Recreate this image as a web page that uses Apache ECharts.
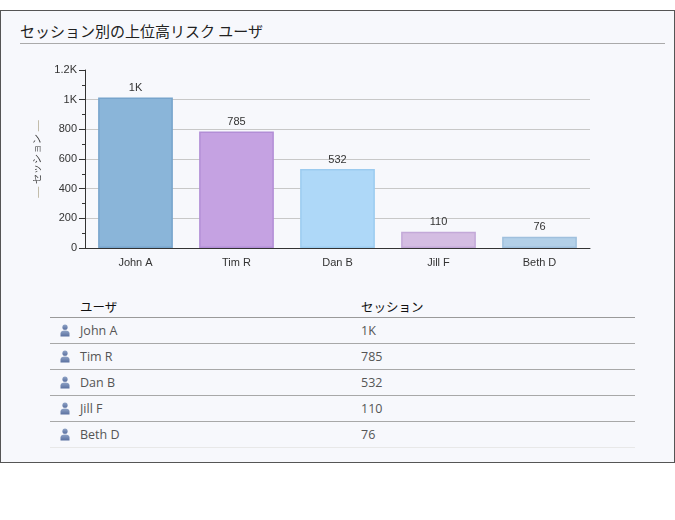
<!DOCTYPE html>
<html lang="ja">
<head>
  <meta charset="UTF-8">
  <title>セッション別の上位高リスク ユーザ</title>
  <script src="https://cdn.jsdelivr.net/npm/echarts@6.0.0/dist/echarts.min.js"></script>
  <style>
    html, body {
      margin: 0;
      padding: 0;
      width: 675px;
      height: 520px;
      background: #fff;
    }
    .panel {
      position: absolute;
      left: 0;
      top: 10px;
      width: 673px;
      height: 451px;
      border: 1px solid #555;
      background: #f7f8fc;
    }
    .title {
      position: absolute;
      left: 19px;
      top: 10px;
      width: 645px;
      height: 22px;
      border-bottom: 1px solid #aaa;
      font: 15px "Noto Sans CJK JP", sans-serif;
      color: #222;
      line-height: 20px;
    }
    #chart {
      position: absolute;
      left: 0;
      top: 30px;
      width: 673px;
      height: 230px;
    }
    table {
      position: absolute;
      left: 49px;
      top: 284px;
      width: 585px;
      border-collapse: collapse;
      font: 12.5px "Open Sans", sans-serif;
      color: #555;
    }
    th {
      text-align: left;
      font: 400 12.5px "Noto Sans CJK JP", sans-serif;
      color: #111;
      height: 22px;
      padding: 0;
      border-bottom: 1px solid #9a9a9a;
    }
    td {
      height: 25px;
      padding: 0;
      border-bottom: 1px solid #a8a8a8;
    }
    tr:last-child td { border-bottom-color: #e8e8e8; }
    .icon { width: 30px; text-align: center; }
    .icon svg { vertical-align: middle; margin-top: -2px; }
    .name { width: 281px; }
  </style>
</head>
<body>
  <div class="panel">
    <div class="title">セッション別の上位高リスク ユーザ</div>
    <div id="chart"></div>
    <table id="users"></table>
  </div>
  <script>
    const users = ['John A', 'Tim R', 'Dan B', 'Jill F', 'Beth D']
    const sessions = [1015, 785, 532, 110, 76]
    const barColors = ['#8ab5d9', '#c5a2e2', '#aed8f8', '#d4bde2', '#b3d0e8']
    const barBorders = ['#77a4cc', '#b28ed6', '#9ccbef', '#c3a9d8', '#a0c0dd']

    function fmt(v) {
      if (v >= 1000) return (v / 1000).toFixed(1).replace(/\.0$/, '') + 'K'
      return String(v)
    }

    const chart = echarts.init(document.getElementById('chart'))
    chart.setOption({
      animation: false,
      grid: { left: 84, right: 84, top: 29, bottom: 23 },
      textStyle: { fontFamily: '"Liberation Sans", Arial, sans-serif' },
      xAxis: {
        type: 'category',
        data: users,
        axisLine: { lineStyle: { color: '#333', width: 1 } },
        axisTick: { alignWithLabel: true, length: 5, lineStyle: { color: '#333' } },
        axisLabel: { color: '#333', fontSize: 11, margin: 9 }
      },
      yAxis: {
        type: 'value',
        min: 0,
        max: 1200,
        interval: 200,
        name: '{d|—} セッション {d|—}',
        nameLocation: 'middle',
        nameRotate: 90,
        nameGap: 42,
        nameTextStyle: {
          color: '#333',
          fontSize: 10,
          rich: { d: { color: '#b5ab93', fontSize: 11 } }
        },
        axisLine: { show: true, lineStyle: { color: '#333', width: 1 } },
        axisTick: { show: true, length: 6, lineStyle: { color: '#333' } },
        minorTick: { show: true, splitNumber: 2, length: 3, lineStyle: { color: '#333' } },
        axisLabel: { color: '#333', fontSize: 11, margin: 8, formatter: fmt },
        splitLine: {
          show: true,
          showMaxLine: false,
          lineStyle: { color: ['#c8c8c8', '#c8c8c8', '#c8c8c8', '#c8c8c8', '#c8c8c8', '#c8c8c8', 'rgba(0,0,0,0)'] }
        }
      },
      series: [{
        type: 'bar',
        barWidth: '74%',
        data: sessions.map((v, i) => ({
          value: v,
          itemStyle: { color: barColors[i], borderColor: barBorders[i], borderWidth: 1.5 }
        })),
        label: {
          show: true,
          position: 'top',
          distance: 4,
          color: '#333',
          fontSize: 11,
          formatter: p => fmt(p.value)
        }
      }]
    })

    const icon = '<svg width="10" height="13" viewBox="0 0 10 13">' +
      '<defs><linearGradient id="g" x1="0" y1="0" x2="0" y2="1">' +
      '<stop offset="0" stop-color="#8fa3c6"/><stop offset="1" stop-color="#5a70a0"/></linearGradient></defs>' +
      '<circle cx="5" cy="3.2" r="2.6" fill="url(#g)"/>' +
      '<path d="M0.5 12.5 V9.5 Q0.5 6.5 5 6.5 Q9.5 6.5 9.5 9.5 V12.5 Z" fill="url(#g)"/></svg>'

    const rows = ['<tr><th></th><th>ユーザ</th><th>セッション</th></tr>']
    users.forEach((u, i) => {
      rows.push('<tr><td class="icon">' + icon + '</td><td class="name">' + u +
        '</td><td>' + fmt(sessions[i]) + '</td></tr>')
    })
    document.getElementById('users').innerHTML = rows.join('')
  </script>
</body>
</html>
